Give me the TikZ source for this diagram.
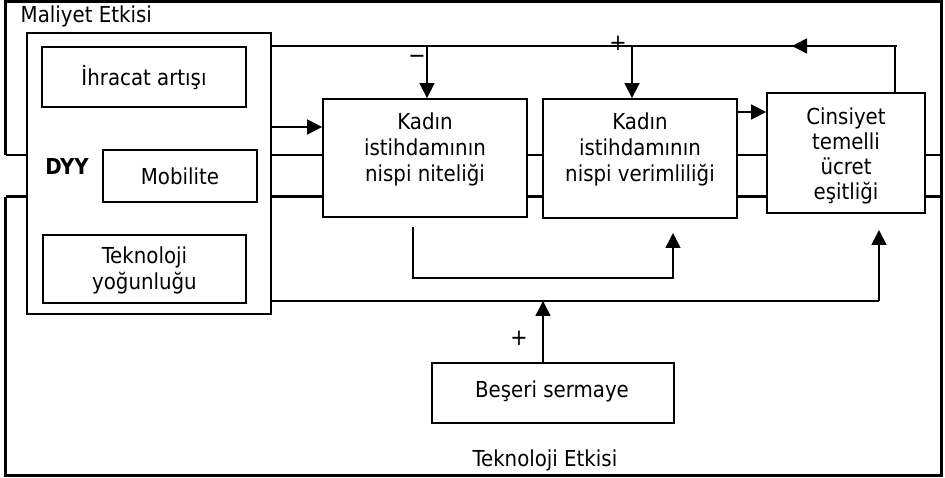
\documentclass[tikz,border=0pt]{standalone}
\usepackage{fontspec}
\setmainfont{DejaVu Sans Condensed}
\usetikzlibrary{arrows.meta}
\tikzset{
  box/.style={draw, line width=1.8pt, fill=white, inner sep=0pt},
  txt/.style={align=center, font=\fontsize{22}{26}\selectfont, inner sep=0pt},
  sign/.style={font=\fontsize{23}{25}\selectfont, inner sep=0pt},
  frameline/.style={line width=3pt},
  conn/.style={line width=1.6pt},
  arr/.style={conn, -{Triangle[length=15pt,width=15pt]}},
}
\begin{document}
\begin{tikzpicture}[x=1pt,y=-1pt]
\useasboundingbox (0,0) rectangle (945,478);
% frames
\draw[frameline] (5.5,155) -- (5.5,1.5) -- (941.5,1.5) -- (941.5,475) -- (5.5,475) -- (5.5,197);
\draw[line width=2.6pt] (5.5,155) -- (941.5,155);
\draw[frameline] (5.5,197) -- (941.5,197);
% boxes
\node[box, minimum width=244pt, minimum height=281pt] (dyy) at (149,173.5) {};
\node[box, minimum width=204pt, minimum height=60pt] (ihr) at (144,77) {};
\node[box, minimum width=154pt, minimum height=52pt] (mob) at (180,176) {};
\node[box, minimum width=203pt, minimum height=68pt] (tek) at (144.5,269) {};
\node[box, minimum width=204pt, minimum height=118pt] (nit) at (425,158) {};
\node[box, minimum width=194pt, minimum height=119pt] (ver) at (640,158.5) {};
\node[box, minimum width=158pt, minimum height=120pt] (cin) at (846,153) {};
\node[box, minimum width=242pt, minimum height=60pt] (bes) at (553,393) {};
% texts
\node[txt, anchor=base west] (tme) at (20.5,23) {Maliyet Etkisi};
\node[txt] (tihr) at (144,78) {İhracat artışı};
\node[txt] (tmob) at (180,176) {Mobilite};
\node[txt] (ttek) at (144.5,270) {Teknoloji\\yoğunluğu};
\node[txt, font=\fontsize{22}{26}\selectfont\bfseries] (tdyy) at (67,166.5) {DYY};
\node[txt] (tnit) at (425,149) {Kadın\\istihdamının\\nispi niteliği};
\node[txt] (tver) at (640,149.5) {Kadın\\istihdamının\\nispi verimliliği};
\node[txt, font=\fontsize{22}{25}\selectfont] (tcin) at (846,156) {Cinsiyet\\temelli\\ücret\\eşitliği};
\node[txt] (tbes) at (552,391) {Beşeri sermaye};
\node[txt] (tte) at (545,460) {Teknoloji Etkisi};
\node[sign] (sminus) at (417,59) {−};
\node[sign] (splus1) at (618,43) {+};
\node[sign] (splus2) at (519,338) {+};
% connectors
\coordinate (tr) at (897,46);
\coordinate (cr) at (895,46);
\coordinate (ma) at (792,46);
\coordinate (m1) at (427,46);
\coordinate (p1) at (632,46);
\coordinate (a1) at (0,127);
\coordinate (a2) at (0,112);
\coordinate (l1) at (413,227);
\coordinate (l2) at (673,278);
\coordinate (l3) at (673,233);
\coordinate (h1) at (879,301);
\coordinate (h2) at (879,230);
\coordinate (b1) at (543,301);
\draw[conn] (dyy.east |- tr) -- (tr);
\draw[conn] (cin.north -| cr) -- (cr);
\draw[arr] (cr) -- (ma);
\draw[arr] (m1) -- (m1 |- nit.north);
\draw[arr] (p1) -- (p1 |- ver.north);
\draw[arr] (dyy.east |- a1) -- (nit.west |- a1);
\draw[arr] (ver.east |- a2) -- (cin.west |- a2);
\draw[arr] (l1) -- (l1 |- l2) -- (l2) -- (l3);
\draw[conn] (dyy.east |- h1) -- (h1);
\draw[arr] (h1) -- (h2);
\draw[arr] (bes.north -| b1) -- (b1);
\end{tikzpicture}
\end{document}
